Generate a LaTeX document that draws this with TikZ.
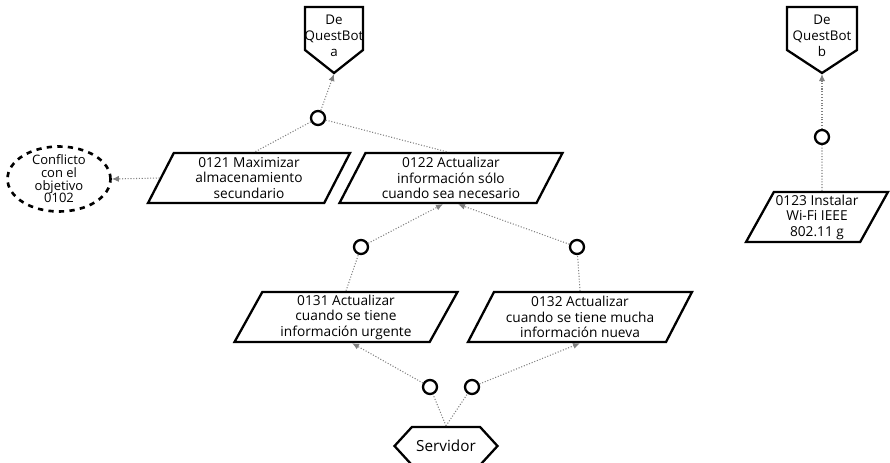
\documentclass[tikz,border=0pt]{standalone}
\usepackage{fontspec}
\setmainfont{Open Sans}
\usetikzlibrary{shapes.geometric,shapes.symbols,arrows.meta,calc}

\tikzset{
  goal/.style={draw, line width=1.3pt, shape=trapezium, trapezium left angle=60, trapezium right angle=120,
    trapezium stretches body, minimum height=1cm, align=center, inner sep=1pt, font=\fontsize{7.8}{8.8}\selectfont},
  source/.style={align=center, inner sep=0pt, font=\fontsize{7.6}{9}\selectfont},
  sourceline/.style={draw, line width=1.3pt, line join=miter},
  server/.style={draw, line width=1.3pt, shape=signal, signal to=west and east, signal pointer angle=95,
    minimum width=2.06cm, minimum height=0.76cm, inner sep=1pt, font=\fontsize{8.7}{10}\selectfont},
  conflict/.style={draw, line width=1.5pt, dashed, shape=ellipse, minimum width=2.06cm, minimum height=1.3cm,
    inner xsep=0pt, inner ysep=-8pt, align=center, font=\fontsize{7.4}{7.2}\selectfont},
  andnode/.style={draw, line width=1.3pt, circle, minimum size=0.28cm, inner sep=0pt},
  link/.style={draw=gray, densely dotted, line width=0.6pt},
  linkto/.style={link, -{Latex[length=4pt, width=3.5pt, fill=gray]}}
}

\begin{document}
\begin{tikzpicture}[x=0.02cm, y=-0.02cm]
	\useasboundingbox (0,0) rectangle (890,463);
	% Sources (pentagons drawn round their text):
	\node[source] (Qa) at (334,36) {De\\QuestBot\\a};
	\draw[sourceline] ($(Qa.center)+(-29,-29)$) -- ++(58,0) -- ++(0,43) -- ++(-29,23) coordinate (QaTip) -- ++(-29,-23) -- cycle;
	\node[source] (Qb) at (822,36) {De\\QuestBot\\b};
	\draw[sourceline] ($(Qb.center)+(-35,-29)$) -- ++(70,0) -- ++(0,43) -- ++(-35,23) coordinate (QbTip) -- ++(-35,-23) -- cycle;
	% Goals and and-nodes:
	\node[andnode] (A1) at (318,118) {};
	\node[andnode] (A2) at (361,247) {};
	\node[andnode] (A3) at (577,247) {};
	\node[andnode] (A4) at (430,387) {};
	\node[andnode] (A5) at (472,387) {};
	\node[andnode] (A6) at (822,137) {};
	\node[goal, minimum width=4.04cm] (G121) at (249,178) {0121 Maximizar\\almacenamiento\\secundario};
	\node[goal, minimum width=4.46cm] (G122) at (451,178) {0122 Actualizar\\información sólo\\cuando sea necesario};
	\node[goal, minimum width=2.82cm] (G123) at (817,217) {0123 Instalar\\Wi-Fi IEEE\\802.11 g};
	\node[goal, minimum width=4.46cm] (G131) at (346,317) {0131 Actualizar\\cuando se tiene\\información urgente};
	\node[goal, minimum width=4.48cm] (G132) at (580,317) {0132 Actualizar\\cuando se tiene mucha\\información nueva};
	\node[conflict] (C1) at (59,179) {Conflicto\\con el\\objetivo\\0102};
	\node[server] (S1) at (446,446) {Servidor};
	% Links:
	\draw[linkto] (A1) -- ($(QaTip)+(0,1)$);
	\draw[link] (A1) -- ($(G121.north)+(6,0)$);
	\draw[link] (A1) -- ($(G122.north)+(-4,0)$);
	\draw[linkto] (G121.west) -- (C1.east);
	\draw[linkto] (A2) -- ($(G122.south)+(-8,0)$);
	\draw[linkto] (A3) -- ($(G122.south)+(7,0)$);
	\draw[link] (G131.north) -- (A2);
	\draw[link] (G132.north) -- (A3);
	\draw[linkto] (A4) -- ($(G131.south)+(6,0)$);
	\draw[linkto] (A5) -- (G132.south);
	\draw[link] (S1.north) -- (A4);
	\draw[link] (S1.north) -- (A5);
	\draw[linkto] (A6) -- ($(QbTip)+(0,1)$);
	\draw[link] ($(G123.north)+(5,0)$) -- (A6);
\end{tikzpicture}
\end{document}
